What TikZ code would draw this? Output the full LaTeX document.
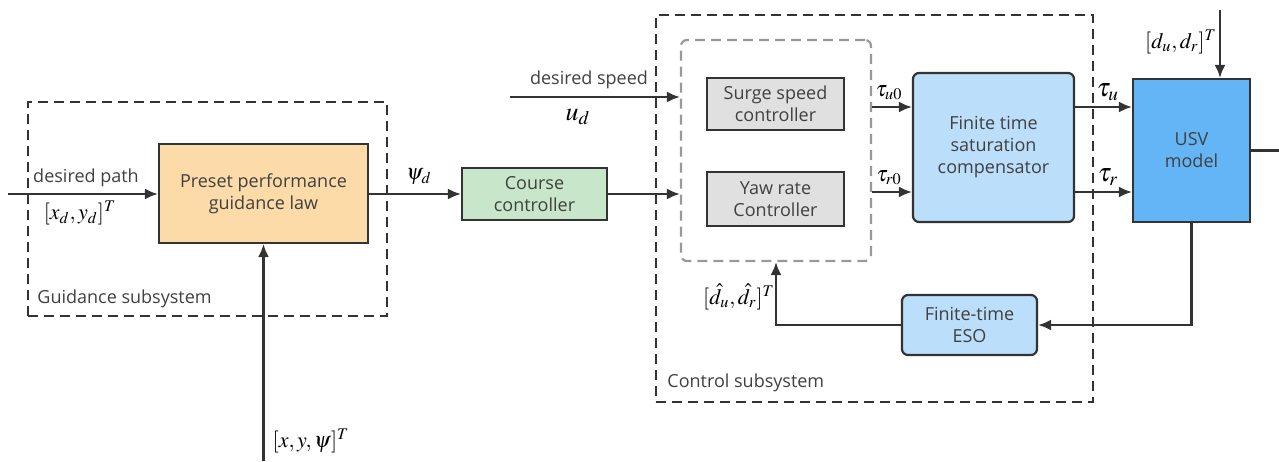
\documentclass[tikz,border=0pt]{standalone}
\usepackage{mathptmx}
\usepackage{fontspec}
\setmainfont{Open Sans}
\usetikzlibrary{arrows.meta}

\definecolor{linecol}{HTML}{333333}
\definecolor{guidefill}{HTML}{FCDBA9}
\definecolor{coursefill}{HTML}{C8E6C9}
\definecolor{ctrlfill}{HTML}{E0E0E0}
\definecolor{compfill}{HTML}{BBDEFB}
\definecolor{usvfill}{HTML}{64B5F6}

\tikzstyle{block} = [draw=linecol, line width=1.1pt, align=center, inner sep=0pt, text=black!75, font=\fontsize{9}{11}\selectfont]
\tikzstyle{frame} = [draw=linecol, line width=1.1pt, dash pattern=on 5pt off 3pt, inner sep=0pt]
\tikzstyle{signal} = [draw=linecol, line width=1.1pt, -{Latex[length=6.5pt,width=5.5pt]}]
\tikzstyle{txt} = [inner sep=0pt, text=black!75, font=\fontsize{9}{11}\selectfont]
\tikzstyle{sym} = [inner sep=0pt, font=\fontsize{11}{13}\selectfont]

\begin{document}
\begin{tikzpicture}[x=0.5pt, y=-0.5pt]
		\useasboundingbox (0,0) rectangle (1279,461);

		% subsystem frames
		\node[frame, minimum width=179.5pt, minimum height=107pt] (guidance) at (207.5,209) {};
		\node[frame, minimum width=218.5pt, minimum height=193.5pt] (control) at (874.5,208.5) {};
		\node[frame, draw=black!40, rounded corners=3pt, minimum width=95pt, minimum height=110.5pt] (ctrlgroup) at (776,150.5) {};
		\node[txt, anchor=west] (guidancelbl) at (37,299) {Guidance subsystem};
		\node[txt, anchor=west] (controllbl) at (667,383) {Control subsystem};

		% blocks
		\node[block, fill=guidefill, minimum width=104.5pt, minimum height=49.5pt] (preset) at (263.5,193.5) {Preset performance\\guidance law};
		\node[block, fill=coursefill, minimum width=72.5pt, minimum height=26pt] (course) at (534.5,194) {Course\\controller};
		\node[block, fill=ctrlfill, minimum width=68.5pt, minimum height=26pt] (surge) at (775.5,104) {Surge speed\\controller};
		\node[block, fill=ctrlfill, minimum width=68.5pt, minimum height=27pt] (yaw) at (775.5,199) {Yaw rate\\Controller};
		\node[block, fill=compfill, rounded corners=3pt, minimum width=80.5pt, minimum height=74.5pt] (comp) at (993.5,147.5) {Finite time\\saturation\\compensator};
		\node[block, fill=usvfill, minimum width=58.5pt, minimum height=71.5pt] (usv) at (1191.5,150.5) {USV\\model};
		\node[block, fill=compfill, rounded corners=3pt, minimum width=67.5pt, minimum height=30pt] (eso) at (969.5,325) {Finite-time\\ESO};

		% free ends and signal rows
		\coordinate (pathin) at (8,194);
		\coordinate (statein) at (263.5,461);
		\coordinate (speedin) at (510,97);
		\coordinate (distin) at (1220,10);
		\coordinate (usvout) at (1279,150.5);
		\coordinate (rowu) at (0,107);
		\coordinate (rowr) at (0,192);

		% signals
		\draw[signal] (pathin) -- (preset.west |- pathin);
		\draw[signal] (statein) -- (preset.south);
		\draw[signal] (preset.east |- course) -- (course.west);
		\draw[signal] (speedin) -- (ctrlgroup.west |- speedin);
		\draw[signal] (course.east) -- (ctrlgroup.west |- course);
		\draw[signal] (ctrlgroup.east |- rowu) -- (comp.west |- rowu);
		\draw[signal] (ctrlgroup.east |- rowr) -- (comp.west |- rowr);
		\draw[signal] (comp.east |- rowu) -- (usv.west |- rowu);
		\draw[signal] (comp.east |- rowr) -- (usv.west |- rowr);
		\draw[signal] (distin) -- (distin |- usv.north);
		\draw[draw=linecol, line width=1.1pt] (usv.east) -- (usvout);
		\draw[signal] (usv.south) |- (eso.east);
		\draw[signal] (eso.west) -| (ctrlgroup.south);

		% signal labels
		\node[txt] (pathlbl) at (86,178) {desired path};
		\node[sym] (pathsym) at (80,213) {$[x_d,y_d]^T$};
		\node[sym] (statesym) at (311,441) {$[x,y,\psi]^T$};
		\node[sym] (psisym) at (419,177) {$\psi_d$};
		\node[txt] (speedlbl) at (589,80) {desired speed};
		\node[sym, font=\fontsize{13}{15}\selectfont] (speedsym) at (578,117) {$u_d$};
		\node[sym] (tauuzero) at (889,93) {$\tau_{u0}$};
		\node[sym] (taurzero) at (889,178) {$\tau_{r0}$};
		\node[sym, font=\fontsize{13}{15}\selectfont] (tauu) at (1108,92) {$\tau_u$};
		\node[sym, font=\fontsize{13}{15}\selectfont] (taur) at (1108,177) {$\tau_r$};
		\node[sym] (distsym) at (1181,42) {$[d_u,d_r]^T$};
		\node[sym] (estsym) at (739,297) {$[\hat{d}_u,\hat{d}_r]^T$};
\end{tikzpicture}
\end{document}
